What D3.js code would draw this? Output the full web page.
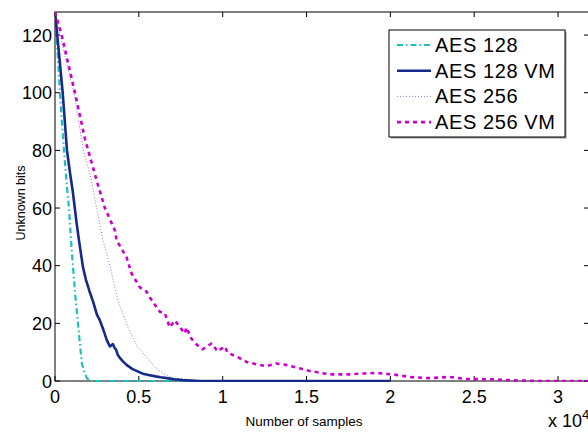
<!DOCTYPE html>
<html>
<head>
<meta charset="utf-8">
<script src="https://cdn.jsdelivr.net/npm/d3@7"></script>
<style>
  body { margin: 0; background: #fff; }
  svg { display: block; font-family: "Liberation Sans", Arial, sans-serif; }
</style>
</head>
<body>
<div id="chart"></div>
<script>
// data: [samples, unknown bits]
var aes128 = [[0,128],[100,120],[200,109],[350,95],[536,80],[700,68],[833,60],[1000,45],
  [1190,31],[1370,20],[1500,12],[1607,6],[1750,3],[1905,1],[2083,0],[20000,0]];
var aes128vm = [[0,128],[200,116],[458,100],[714,80],[900,72],[1054,66],[1180,60],[1292,54.6],
  [1450,48],[1667,39.5],[1850,35],[2042,31.4],[2300,27],[2500,23],[2679,21],[2900,17.5],
  [3100,14],[3274,12],[3452,12.8],[3550,11.5],[3631,11],[3750,9],[3869,8],[4050,6.8],
  [4286,5.5],[4600,4.2],[5060,3],[5300,2.4],[5655,2],[6000,1.6],[6300,1.3],[6667,1],
  [7100,0.6],[7619,0.3],[8631,0],[20000,0]];
var aes256 = [[0,128],[500,115],[1131,100],[1696,80],[2083,72],[2482,60],[2857,49],[3274,40],
  [3750,28],[4345,18.6],[4900,12],[5476,8.2],[6000,4.5],[6429,2.7],[7024,1],[8631,0],[12000,0]];
var aes256vm = [[0,128],[399,120],[1190,100],[1786,84],[2482,69.6],[2976,60],[3571,52.3],
  [3673,48.8],[4268,42.9],[4565,37.3],[5060,32.5],[5458,31],[5655,29],[6250,24],[6548,23.5],
  [6845,18.6],[7143,21],[7738,16.5],[7837,18.6],[8137,14.7],[8435,12.7],[8810,11],[9327,13],
  [9702,10.3],[10119,12],[10298,9.8],[10893,8.3],[11429,6.6],[12006,5.8],[12601,5.1],
  [13196,6.1],[13869,5.5],[14583,4.4],[15179,3.5],[16369,2.3],[17560,2.3],[18400,2.6],
  [19149,2.8],[20119,2.3],[21310,1.3],[22321,1.0],[23512,1.4],[24506,0.7],[26071,0.6],
  [27482,0.2],[28869,0],[31845,0]];

var seriesNames = ["AES 128", "AES 128 VM", "AES 256", "AES 256 VM"];
var seriesData = [aes128, aes128vm, aes256, aes256vm];
var xTicks = [0, 5000, 10000, 15000, 20000, 25000, 30000];
var yTicks = [0, 20, 40, 60, 80, 100, 120];

// line styles
var styles = [
  {color: "#1fbfbf", width: 2.2, dash: "6,3,1.5,3"},
  {color: "#172a8c", width: 2.6, dash: null},
  {color: "#a070c4", width: 1, dash: "1,2"},
  {color: "#cc00cc", width: 2.6, dash: "4,4"}
];

var W = 588, H = 433;
var margin = {top: 12, right: -1, bottom: 52, left: 55};
var width = W - margin.left - margin.right,
    height = H - margin.top - margin.bottom;

var svg = d3.select("#chart").append("svg")
    .attr("width", W).attr("height", H);

var g = svg.append("g")
    .attr("transform", "translate(" + margin.left + "," + margin.top + ")");

var x = d3.scaleLinear().domain([0, 31845]).range([0, width]);
var y = d3.scaleLinear().domain([0, 128]).range([height, 0]);

g.append("clipPath").attr("id", "clip")
  .append("rect").attr("width", width).attr("height", height + 2).attr("y", -1);

// box
g.append("rect")
  .attr("width", width).attr("height", height)
  .attr("fill", "none").attr("stroke", "#000").attr("stroke-width", 1);

// ticks, inward on all sides
var tickLen = 5;
xTicks.forEach(function(t) {
  g.append("line").attr("x1", x(t)).attr("x2", x(t)).attr("y1", height).attr("y2", height - tickLen)
    .attr("stroke", "#000");
  g.append("line").attr("x1", x(t)).attr("x2", x(t)).attr("y1", 0).attr("y2", tickLen)
    .attr("stroke", "#000");
  g.append("text").attr("x", x(t)).attr("y", height + 22)
    .attr("text-anchor", "middle").attr("font-size", 18)
    .text(t / 10000);
});
yTicks.forEach(function(t) {
  g.append("line").attr("x1", 0).attr("x2", tickLen).attr("y1", y(t)).attr("y2", y(t))
    .attr("stroke", "#000");
  g.append("line").attr("x1", width).attr("x2", width - tickLen).attr("y1", y(t)).attr("y2", y(t))
    .attr("stroke", "#000");
  g.append("text").attr("x", -3).attr("y", y(t) + 6.5)
    .attr("text-anchor", "end").attr("font-size", 18)
    .text(t);
});

// series
var line = d3.line()
  .x(function(d) { return x(d[0]); })
  .y(function(d) { return y(d[1]); });

var plot = g.append("g").attr("clip-path", "url(#clip)");
[2, 0, 1, 3].forEach(function(i) {
  plot.append("path")
    .datum(seriesData[i])
    .attr("d", line)
    .attr("fill", "none")
    .attr("stroke", styles[i].color)
    .attr("stroke-width", styles[i].width)
    .attr("stroke-dasharray", styles[i].dash)
    .attr("stroke-linejoin", "round");
});

// axis labels
svg.append("text")
  .attr("x", 304).attr("y", 426)
  .attr("text-anchor", "middle").attr("font-size", 13.5)
  .text("Number of samples");
svg.append("text")
  .attr("transform", "translate(25,203) rotate(-90)")
  .attr("text-anchor", "middle").attr("font-size", 12.5)
  .text("Unknown bits");
var ex = svg.append("text")
  .attr("x", 548).attr("y", 427).attr("font-size", 18);
ex.append("tspan").text("x 10");
ex.append("tspan").attr("dy", -8).attr("font-size", 13).text("4");

// legend
var lx = 389, ly = 30, lw = 176, lh = 107;
svg.append("rect").attr("x", lx + 1.5).attr("y", ly + 1.5).attr("width", lw).attr("height", lh)
  .attr("fill", "#999");
svg.append("rect").attr("x", lx).attr("y", ly).attr("width", lw).attr("height", lh)
  .attr("fill", "#fff").attr("stroke", "#000").attr("stroke-width", 1);
seriesNames.forEach(function(name, i) {
  var yy = ly + 15 + i * 25.7;
  svg.append("line")
    .attr("x1", lx + 8).attr("x2", lx + 42).attr("y1", yy).attr("y2", yy)
    .attr("stroke", styles[i].color)
    .attr("stroke-width", styles[i].width)
    .attr("stroke-dasharray", styles[i].dash);
  svg.append("text")
    .attr("x", lx + 46).attr("y", yy + 7)
    .attr("font-size", 20).attr("letter-spacing", 0.6)
    .text(name);
});
</script>
</body>
</html>
